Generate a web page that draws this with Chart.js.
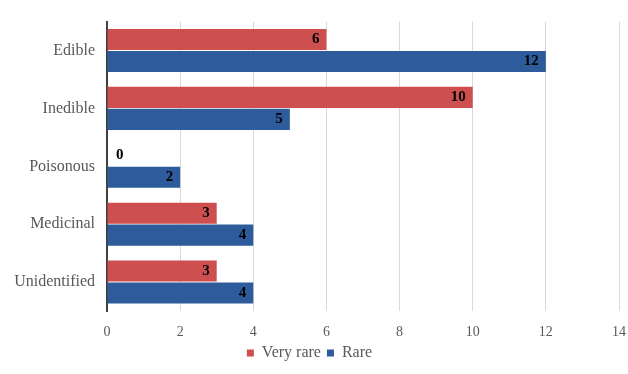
<!DOCTYPE html>
<html>
<head>
<meta charset="utf-8">
<script src="https://cdn.jsdelivr.net/npm/chart.js@4"></script>
<style>
    html, body { margin: 0; padding: 0; background: #fff; }
    #wrap { width: 628px; height: 374px; position: relative; }
</style>
</head>
<body>
<div id="wrap"><canvas id="rarityChart"></canvas></div>
<script>
// Chart values
const categories = ['Edible', 'Inedible', 'Poisonous', 'Medicinal', 'Unidentified'];
const veryRare = [6, 10, 0, 3, 3];
const rare = [12, 5, 2, 4, 4];
const xTicks = [0, 2, 4, 6, 8, 10, 12, 14];

const serif = '"Liberation Serif", "Times New Roman", serif';

// Labels drawn at the inner end of each bar (Excel style)
const barLabels = {
    id: 'barLabels',
    afterDatasetsDraw(chart) {
        const ctx = chart.ctx;
        ctx.save();
        ctx.font = 'bold 15px ' + serif;
        ctx.fillStyle = '#000';
        ctx.textBaseline = 'middle';
        chart.data.datasets.forEach((ds, i) => {
            chart.getDatasetMeta(i).data.forEach((bar, j) => {
                const v = ds.data[j];
                if (v === 0) {
                    ctx.textAlign = 'left';
                    ctx.fillText(v, bar.x + 9, bar.y);
                } else {
                    ctx.textAlign = 'right';
                    ctx.fillText(v, bar.x - 7, bar.y);
                }
            });
        });
        ctx.restore();
    }
};

const ctx = document.getElementById('rarityChart').getContext('2d');
const rarityChart = new Chart(ctx, {
    type: 'bar',
    data: {
        labels: categories,
        datasets: [{
            label: 'Very rare',
            data: veryRare,
            backgroundColor: '#cd4f4f',
            borderWidth: 0,
            barPercentage: 0.96,
            categoryPercentage: 0.76
        }, {
            label: 'Rare',
            data: rare,
            backgroundColor: '#2e5b9b',
            borderWidth: 0,
            barPercentage: 0.96,
            categoryPercentage: 0.76
        }]
    },
    options: {
        indexAxis: 'y',
        responsive: true,
        maintainAspectRatio: false,
        animation: false,
        layout: { padding: { top: 19, right: 9, bottom: 3, left: 0 } },
        scales: {
            x: {
                min: 0,
                max: 14,
                afterBuildTicks: (scale) => {
                    scale.ticks = xTicks.map(v => ({ value: v }));
                },
                afterFit: (scale) => {
                    scale.height = 28;
                    scale.paddingLeft = 0;
                    scale.paddingRight = 0;
                },
                grid: { color: '#d9d9d9', lineWidth: 1, drawTicks: false },
                border: { display: false },
                ticks: {
                    color: '#595959',
                    font: { family: serif, size: 14 },
                    padding: 13
                }
            },
            y: {
                afterFit: (scale) => { scale.width = 107; },
                grid: { display: false, drawTicks: false },
                border: { display: true, color: '#404040', width: 2 },
                ticks: {
                    color: '#595959',
                    font: { family: serif, size: 16 },
                    padding: 12
                }
            }
        },
        plugins: {
            legend: {
                position: 'bottom',
                labels: {
                    color: '#595959',
                    font: { family: serif, size: 16 },
                    boxWidth: 7,
                    boxHeight: 7,
                    padding: 6
                }
            },
            tooltip: { enabled: false }
        }
    },
    plugins: [barLabels]
});
</script>
</body>
</html>
